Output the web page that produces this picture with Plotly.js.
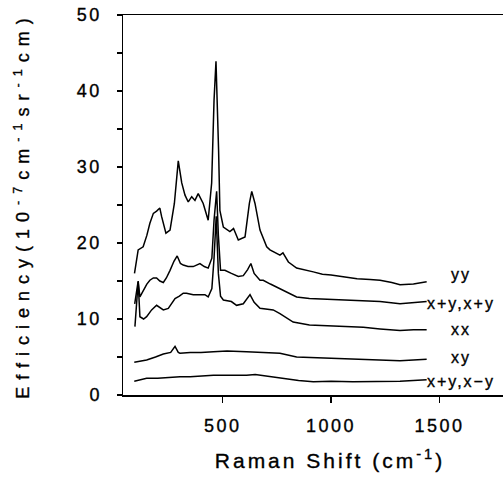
<!DOCTYPE html>
<html>
<head>
<meta charset="utf-8">
<script src="https://cdn.plot.ly/plotly-3.0.1.min.js"></script>
<style>
html, body { margin: 0; padding: 0; overflow: hidden; background: #fff; }
#chart { width: 540px; height: 496px; }
.xtick text, .ytick text { letter-spacing: 2.5px; }
.xtitle { letter-spacing: 3px; }
.ytitle { letter-spacing: 7px; }
.annotation-text { letter-spacing: 2px; }
.main-svg text { stroke: #000; stroke-width: 0.35px; }
</style>
</head>
<body>
<div id="chart"></div>
<script>
// Series: yy
const yyX = [93, 110, 133, 150, 164, 180, 195, 210, 218, 238, 257, 277, 295, 311, 326, 341, 357, 372, 387, 410, 433, 449, 460, 469, 481, 487, 503, 533, 550, 572, 603, 623, 634, 649, 672, 703, 718, 740, 764, 778, 803, 841, 880, 918, 960, 1000, 1072, 1120, 1180, 1226, 1280, 1318, 1380, 1441];
const yyY = [16.0, 19.1, 19.5, 21.0, 22.6, 23.9, 24.2, 24.6, 23.5, 21.3, 21.7, 25.2, 30.8, 27.9, 26.3, 25.4, 26.1, 25.6, 26.5, 25.2, 23.0, 27.9, 38.8, 43.9, 32.2, 24.3, 22.1, 21.5, 21.9, 20.4, 20.8, 25.2, 26.8, 25.2, 21.7, 19.5, 19.1, 18.8, 18.4, 18.7, 17.5, 16.7, 16.4, 16.2, 15.9, 15.8, 15.5, 15.3, 15.2, 15.1, 14.8, 14.5, 14.6, 14.9];

// Series: x+y,x+y
const xpyX = [94, 110, 118, 133, 150, 164, 180, 195, 210, 226, 240, 257, 275, 290, 305, 318, 340, 364, 395, 415, 433, 450, 460, 472, 480, 490, 510, 540, 572, 595, 615, 630, 645, 672, 687, 720, 764, 800, 841, 900, 995, 1100, 1226, 1318, 1380, 1441];
const xpyY = [12.0, 15.0, 12.9, 13.8, 14.6, 15.1, 15.4, 15.4, 15.0, 14.8, 15.4, 16.4, 17.6, 18.3, 17.3, 17.1, 16.9, 16.9, 17.3, 16.9, 16.7, 18.0, 23.0, 26.8, 21.0, 16.4, 16.4, 16.0, 15.6, 15.7, 16.5, 17.3, 16.0, 15.1, 15.1, 14.6, 14.0, 13.5, 12.9, 12.7, 12.6, 12.5, 12.3, 12.0, 12.2, 12.3];

// Series: xx
const xxX = [95, 110, 118, 135, 149, 172, 195, 210, 226, 249, 265, 280, 300, 318, 333, 364, 395, 418, 433, 450, 460, 470, 480, 490, 503, 540, 564, 595, 626, 645, 672, 700, 733, 764, 800, 825, 900, 995, 1072, 1149, 1226, 1318, 1380, 1441];
const xxY = [9.0, 14.9, 10.3, 10.0, 10.3, 11.2, 11.8, 11.5, 11.2, 11.4, 12.0, 12.7, 13.0, 13.4, 13.4, 13.2, 13.2, 13.2, 12.9, 14.0, 18.0, 23.5, 16.0, 13.0, 12.5, 12.3, 11.8, 12.0, 13.2, 12.2, 11.4, 11.3, 11.2, 10.7, 10.0, 9.6, 9.2, 9.1, 9.0, 8.9, 8.7, 8.5, 8.6, 8.6];

// Series: xy
const xyX = [92, 149, 190, 226, 260, 280, 295, 303, 350, 400, 457, 520, 610, 700, 764, 841, 950, 1072, 1200, 1318, 1441];
const xyY = [4.3, 4.6, 5.0, 5.4, 5.6, 6.4, 5.6, 5.5, 5.6, 5.6, 5.7, 5.8, 5.7, 5.6, 5.5, 5.0, 4.9, 4.8, 4.7, 4.5, 4.7];

// Series: x+y,x-y
const xmyX = [92, 120, 149, 200, 250, 303, 350, 400, 457, 530, 610, 650, 700, 764, 850, 918, 1000, 1100, 1226, 1318, 1441];
const xmyY = [1.8, 2.0, 2.2, 2.2, 2.3, 2.4, 2.4, 2.5, 2.6, 2.6, 2.6, 2.7, 2.5, 2.3, 1.9, 1.75, 1.8, 1.75, 1.75, 1.8, 2.0];

// Curve labels
const labelText = ["yy", "x+y,x+y", "xx", "xy", "x+y,x\u2212y"];
const labelY = [15.8, 12.1, 8.6, 4.9, 1.8];
const labelX = 1600;

const xTickVals = [500, 1000, 1500];
const yTickVals = [0, 10, 20, 30, 40, 50];

const font = "Liberation Sans, Arial, Helvetica, sans-serif";
const lineStyle = {color: "#000", width: 1.5};

const series = [[yyX, yyY], [xpyX, xpyY], [xxX, xxY], [xyX, xyY], [xmyX, xmyY]];
const traces = series.map(s => ({
  x: s[0], y: s[1], type: "scatter", mode: "lines",
  line: lineStyle, hoverinfo: "skip", showlegend: false
}));

const annotations = labelText.map((t, i) => ({
  x: labelX, y: labelY[i], xref: "x", yref: "y", text: t,
  showarrow: false, xanchor: "center", yanchor: "middle",
  font: {family: font, size: 16, color: "#000"}
}));

const layout = {
  width: 540, height: 496,
  margin: {l: 123, r: 3, t: 15, b: 101},
  paper_bgcolor: "#fff", plot_bgcolor: "#fff",
  showlegend: false,
  font: {family: font, color: "#000"},
  xaxis: {
    range: [40, 1950], showgrid: false, zeroline: false,
    showline: true, linecolor: "#000", linewidth: 1.5, mirror: true,
    tickmode: "array", tickvals: xTickVals, ticktext: xTickVals.map(String),
    ticks: "outside", ticklen: 6, tickwidth: 1.2, tickcolor: "#000",
    ticklabelstandoff: 8,
    tickfont: {family: font, size: 18, color: "#000"},
    title: {text: "Raman Shift (cm<sup>-1</sup>)", font: {family: font, size: 21, color: "#000"}, standoff: 18}
  },
  yaxis: {
    range: [0, 50], showgrid: false, zeroline: false,
    showline: true, linecolor: "#000", linewidth: 1.5, mirror: false,
    tickmode: "array", tickvals: yTickVals, ticktext: yTickVals.map(String),
    ticks: "outside", ticklen: 5, tickwidth: 1.2, tickcolor: "#000",
    minor: {dtick: 5, ticks: "outside", ticklen: 5, tickwidth: 1.2, tickcolor: "#000", showgrid: false},
    ticklabelstandoff: 11,
    tickfont: {family: font, size: 18, color: "#000"},
    title: {text: "Efficiency(10<sup>-7</sup>cm<sup>-1</sup>sr<sup>-1</sup>cm)", font: {family: font, size: 18, color: "#000"}, standoff: 42}
  },
  annotations: annotations
};

Plotly.newPlot("chart", traces, layout, {displayModeBar: false, staticPlot: true});
</script>
</body>
</html>
